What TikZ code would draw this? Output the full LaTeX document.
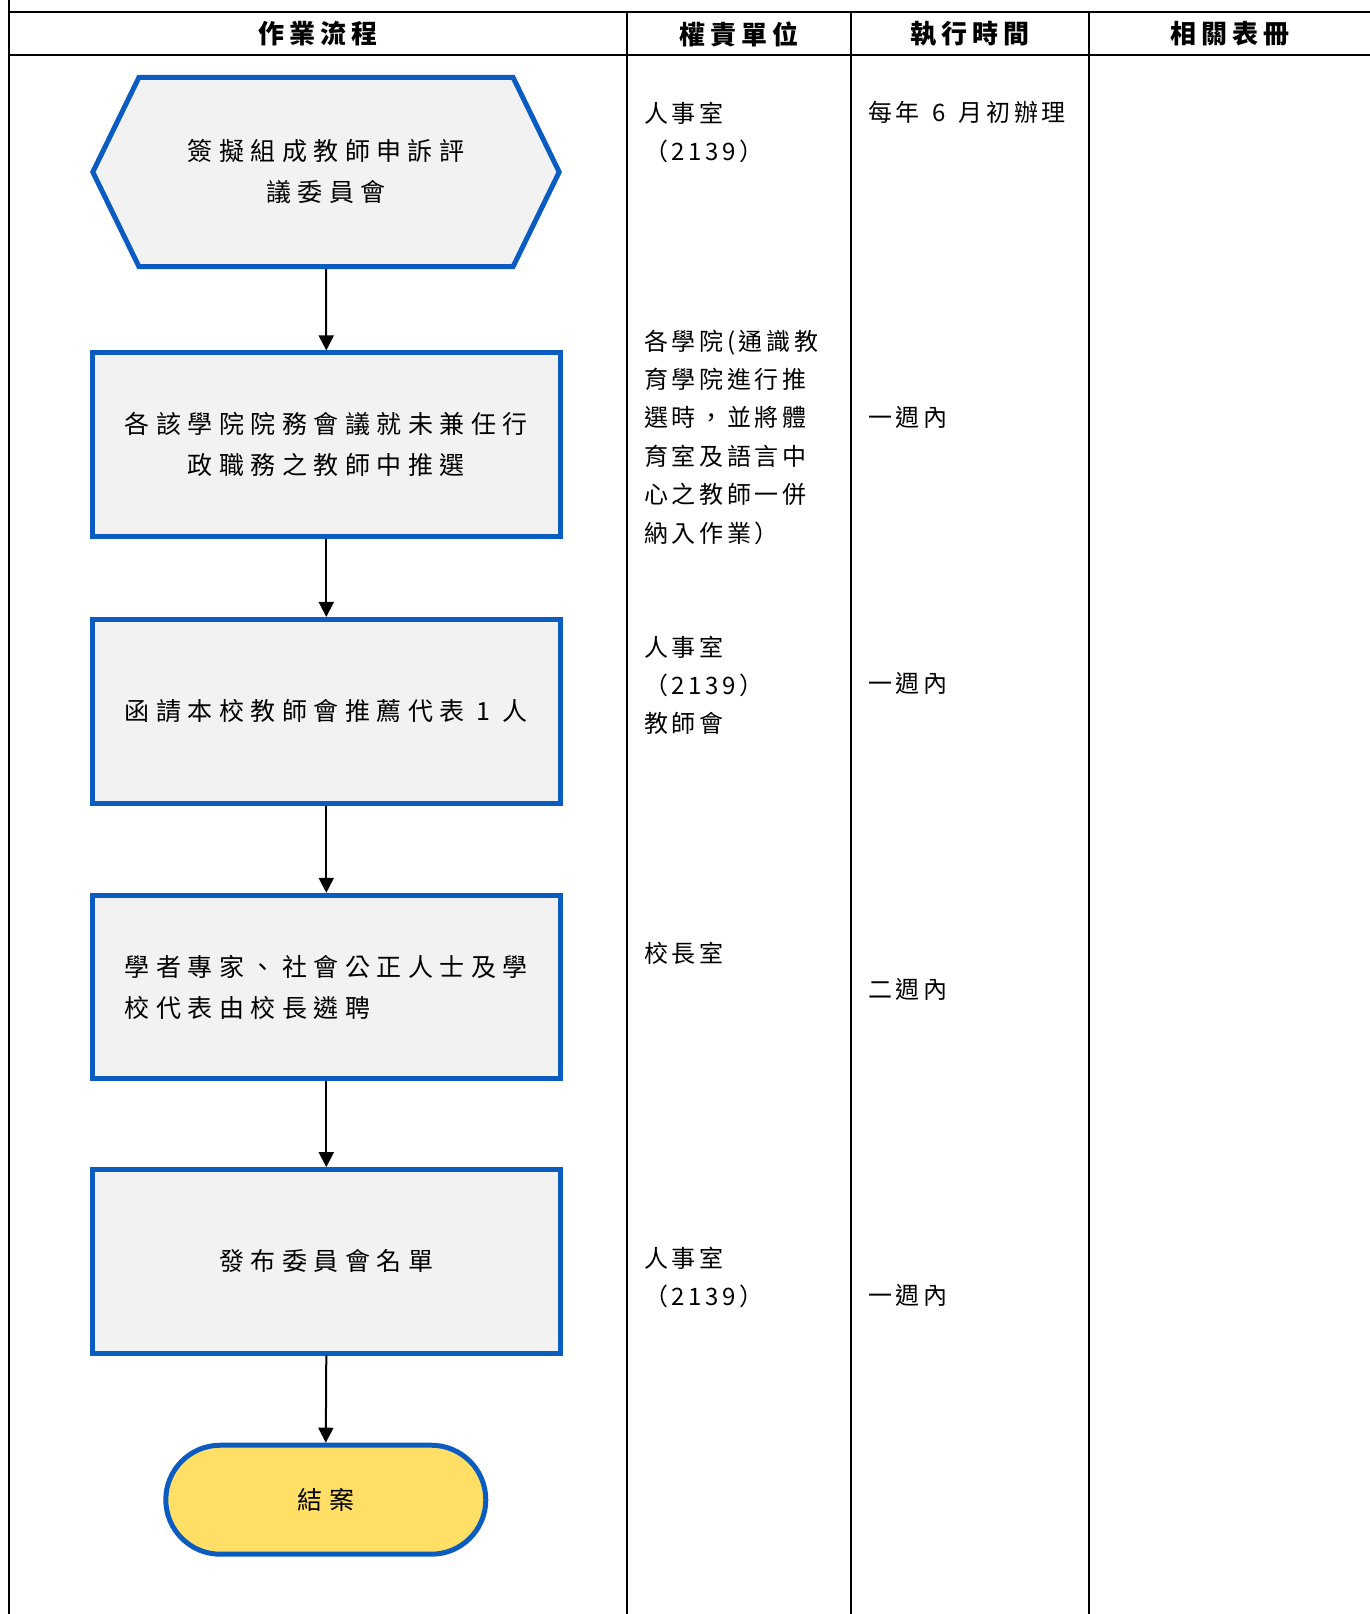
\documentclass[tikz,border=0pt]{standalone}
\usepackage{fontspec}
\newfontfamily\cjkflow{Noto Sans CJK TC}[LetterSpace=26]
\newfontfamily\cjkcol{Noto Sans CJK TC}[LetterSpace=15]
\newfontfamily\cjkhead{Noto Sans CJK TC}[LetterSpace=19]
\usepackage{xcolor}
\usetikzlibrary{arrows.meta, positioning, shapes.symbols, shapes.misc}
\definecolor{flowblue}{HTML}{0A5CC0}
\definecolor{flowgray}{HTML}{F2F2F2}
\definecolor{flowyellow}{HTML}{FFDF66}

\begin{document}
\begin{tikzpicture}[x=0.5pt, y=-0.5pt,
    rule/.style={line width=1pt},
    headtext/.style={font=\cjkhead\bfseries\fontsize{13}{16}\selectfont},
    flowtext/.style={font=\cjkflow\fontsize{12.5}{20.5}\selectfont},
    coltext/.style={anchor=base west, align=left, inner sep=0pt,
      font=\cjkcol\fontsize{12}{19.2}\selectfont},
    startbox/.style={flowtext, shape=signal, signal to=west and east,
      signal pointer angle=128, draw=flowblue, line width=2.5pt,
      fill=flowgray, minimum width=233.2pt, minimum height=94.7pt,
      inner sep=0pt, align=center},
    procbox/.style={flowtext, draw=flowblue, line width=2.5pt,
      fill=flowgray, minimum width=233.7pt, minimum height=91.8pt,
      inner sep=0pt, align=center},
    endbox/.style={flowtext, shape=rounded rectangle, draw=flowblue,
      line width=2.5pt, fill=flowyellow, minimum width=160pt,
      minimum height=54.5pt, inner sep=0pt},
    flowarrow/.style={-{Triangle[width=7.5pt, length=7.5pt]}, line width=1pt},
  ]
  \useasboundingbox (0,0) rectangle (1370,1614);

  % Table frame
  \draw[rule] (9.3,0) -- (9.3,1614);
  \draw[rule] (9.3,12.4) -- (1370,12.4);
  \draw[rule] (9.3,54.5) -- (1370,54.5);
  \foreach \xcol in {627,851,1089} {
    \draw[rule] (\xcol,12.4) -- (\xcol,1614);
  }

  % Header
  \node[headtext] (hflow) at (318,34) {作業流程};
  \node[headtext] (hunit) at (739,34) {權責單位};
  \node[headtext] (htime) at (970,34) {執行時間};
  \node[headtext] (hform) at (1230,34) {相關表冊};

  % Flow
  \node[startbox] (start) at (326,172) {簽擬組成教師申訴評\\議委員會};
  \node[procbox] (nominate) at (326.3,444.7) {各該學院院務會議就未兼任行\\政職務之教師中推選};
  \node[procbox] (union) at (326.3,711.2) {函請本校教師會推薦代表 1 人};
  \node[procbox, align=left] (invite) at (326.3,987.1) {學者專家、社會公正人士及學\\校代表由校長遴聘};
  \node[procbox] (publish) at (326.3,1261.4) {發布委員會名單};
  \node[endbox] (close) at (325.8,1499.7) {結案};

  % Draw arrows
  \foreach \from/\to in {start/nominate, nominate/union, union/invite,
      invite/publish, publish/close} {
    \draw[flowarrow] (\from.south) -- (\to.north);
  }

  % Responsible units (base = last line)
  \node[coltext] (unit1) at (644,160.4) {人事室\\（2139）};
  \node[coltext] (unit2) at (644,542) {各學院(通識教\\育學院進行推\\選時，並將體\\育室及語言中\\心之教師一併\\納入作業）};
  \node[coltext] (unit3) at (644,732.8) {人事室\\（2139）\\教師會};
  \node[coltext] (unit4) at (644,962) {校長室};
  \node[coltext] (unit5) at (644,1305.4) {人事室\\（2139）};

  % Time
  \node[coltext] (time1) at (867.7,121) {每年\hspace{2pt} 6 \hspace{2pt}月初辦理};
  \node[coltext] (time2) at (867.7,426) {一週內};
  \node[coltext] (time3) at (867.7,692.5) {一週內};
  \node[coltext] (time4) at (867.7,998) {二週內};
  \node[coltext] (time5) at (867.7,1304) {一週內};
\end{tikzpicture}
\end{document}
